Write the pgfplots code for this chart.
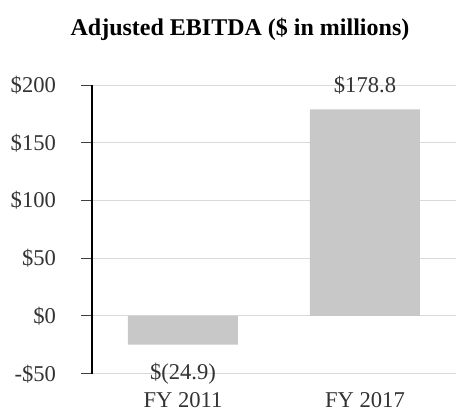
\documentclass[border=0pt]{standalone}
\usepackage{pgfplots}
\pgfplotsset{compat=1.18}
\usepackage{fontspec}
\setmainfont{Liberation Serif}
\definecolor{barg}{HTML}{C8C8C8}
\definecolor{gridg}{HTML}{D9D9D9}
\definecolor{txt}{HTML}{333333}
\begin{document}
\begin{tikzpicture}
\path[use as bounding box] (-46pt,-20.15pt) rectangle (182pt,186.85pt);
\begin{axis}[
  at={(0,0)}, anchor=south west,
  scale only axis, width=182pt, height=144.35pt,
  xmin=-0.5, xmax=1.5, ymin=-50, ymax=200,
  axis x line*=bottom, axis y line*=left,
  x axis line style={draw=none},
  y axis line style={-, black, line width=1pt},
  xtick={0,1}, xticklabels={FY 2011, FY 2017},
  xtick style={draw=none},
  ytick={-50,0,50,100,150,200},
  yticklabels={-\$50,\$0,\$50,\$100,\$150,\$200},
  tick align=outside, major tick length=5.5pt,
  ytick style={black!75, line width=0.5pt},
  ymajorgrids, grid style={gridg, line width=0.5pt},
  tick label style={font=\fontsize{11.3}{13}\selectfont, text=txt},
  yticklabel style={anchor=east, xshift=-9pt},
  xticklabel style={yshift=-0.5pt},
  ybar, bar width=55pt, bar shift=0pt,
  clip=false,
]
\addplot[fill=barg, draw=none] coordinates {(0,-24.9) (1,178.8)};
\node[font=\fontsize{11.3}{13}\selectfont, text=txt] at (axis cs:0,-50) {\$(24.9)};
\node[font=\fontsize{11.3}{13}\selectfont, text=txt] at (axis cs:1,200) {\$178.8};
\end{axis}
\node[font=\fontsize{12}{14}\selectfont\bfseries] at (74pt,172pt) {Adjusted EBITDA (\$ in millions)};
\end{tikzpicture}
\end{document}
